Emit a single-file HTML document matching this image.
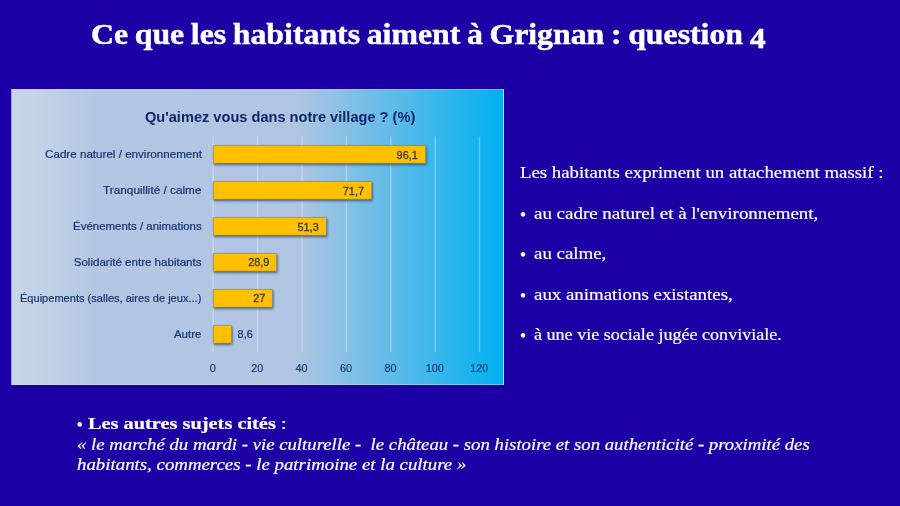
<!DOCTYPE html>
<html lang="fr">
<head>
<meta charset="utf-8">
<title>Ce que les habitants aiment à Grignan : question 4</title>
<style>
html,body{margin:0;padding:0;}
body{width:900px;height:506px;overflow:hidden;background:#1c00a5;position:relative;font-family:"Liberation Serif",serif;color:#fff;}
.abs{position:absolute;white-space:nowrap;line-height:1;transform-origin:0 0;margin:0;}
h1{font-weight:bold;font-size:29px;left:91px;top:19.5px;word-spacing:-1.2px;transform:scaleX(1.0965);-webkit-text-stroke:.45px #fff;}
.os{position:relative;top:4px;}
#chart{position:absolute;left:11px;top:89px;width:493px;height:296px;box-sizing:border-box;border:1px solid rgba(217,217,217,.5);
background:linear-gradient(90deg,#c7d7ea 0%,#c2d3e8 6%,#b3c7e2 17%,#b0c5e2 58%,#00b0f0 100%);
font-family:"Liberation Sans",sans-serif;color:#1f3864;}
#chart .t{position:absolute;white-space:nowrap;line-height:1;}
.ctitle{font-weight:bold;font-size:14.6px;left:133px;top:20px;color:#12266a;}
.cat{font-size:11.55px;right:301.5px;color:#17306e;-webkit-text-stroke:.2px #17306e;transform-origin:100% 50%;}
.val{font-size:10.9px;color:#383838;-webkit-text-stroke:.3px #383838;}
.val.out{color:#17306e;-webkit-text-stroke:.2px #17306e;}
.ax{font-size:10.8px;width:40px;text-align:center;top:273px;color:#17306e;-webkit-text-stroke:.15px #17306e;}
.p{font-size:17.6px;transform:scaleX(1.073);-webkit-text-stroke:.2px #fff;}
.bu{font-size:18.5px;left:519.8px;}
.b{font-size:17.4px;-webkit-text-stroke:.2px #fff;}
</style>
</head>
<body>
<h1 class="abs">Ce que les habitants aiment à Grignan : question <span class="os">4</span></h1>

<div id="chart">
  <svg width="493" height="296" viewBox="0 0 493 296" style="position:absolute;left:-1px;top:-1px">
    <defs><filter id="sh" x="-5%" y="-30%" width="110%" height="170%"><feDropShadow dx=".7" dy="1.4" stdDeviation="1" flood-color="#24395c" flood-opacity=".8"/></filter></defs>
    <g stroke="#fff" stroke-opacity=".36" stroke-width="1.3"><line x1="202.1" y1="47.5" x2="202.1" y2="263.2"/><line x1="246.5" y1="47.5" x2="246.5" y2="263.2"/><line x1="290.9" y1="47.5" x2="290.9" y2="263.2"/><line x1="335.3" y1="47.5" x2="335.3" y2="263.2"/><line x1="379.7" y1="47.5" x2="379.7" y2="263.2"/><line x1="424.1" y1="47.5" x2="424.1" y2="263.2"/><line x1="468.5" y1="47.5" x2="468.5" y2="263.2"/></g>
    <g fill="#ffc000" stroke="#5f7ca6" stroke-opacity=".7" stroke-width=".7" filter="url(#sh)"><rect x="202.3" y="56.7" width="212.4" height="17.5"/><rect x="202.3" y="92.7" width="158.3" height="17.5"/><rect x="202.3" y="128.7" width="113.0" height="17.5"/><rect x="202.3" y="164.6" width="63.3" height="17.5"/><rect x="202.3" y="200.6" width="59.0" height="17.5"/><rect x="202.3" y="236.6" width="18.2" height="17.5"/></g>
  </svg>
  <div class="t ctitle">Qu'aimez vous dans notre village ? (%)</div>
  <div class="t cat" style="top:59px;transform:scaleX(1.006)">Cadre naturel / environnement</div>
  <div class="t cat" style="top:95px;transform:scaleX(1.02)">Tranquillité / calme</div>
  <div class="t cat" style="top:131px;transform:scaleX(0.992)">Événements / animations</div>
  <div class="t cat" style="top:167px;transform:scaleX(1.0)">Solidarité entre habitants</div>
  <div class="t cat" style="top:203px;transform:scaleX(0.958)">Équipements (salles, aires de jeux...)</div>
  <div class="t cat" style="top:239px;transform:scaleX(1.0)">Autre</div>
  <div class="t val" style="top:59.5px;right:85.2px">96,1</div>
  <div class="t val" style="top:95.5px;right:139.0px">71,7</div>
  <div class="t val" style="top:131.5px;right:184.3px">51,3</div>
  <div class="t val" style="top:167.4px;right:233.6px">28,9</div>
  <div class="t val" style="top:203.4px;right:237.7px">27</div>
  <div class="t val out" style="top:239.4px;left:225.6px">8,6</div>
  <div class="t ax" style="left:180.8px">0</div>
  <div class="t ax" style="left:225.2px">20</div>
  <div class="t ax" style="left:269.6px">40</div>
  <div class="t ax" style="left:314.0px">60</div>
  <div class="t ax" style="left:358.4px">80</div>
  <div class="t ax" style="left:402.8px">100</div>
  <div class="t ax" style="left:447.2px">120</div>
</div>

<div class="abs p" style="left:520px;top:164px;transform:scaleX(1.069)">Les habitants expriment un attachement massif :</div>
<div class="abs bu" style="top:205.6px">•</div>
<div class="abs p" style="left:534px;top:205px;transform:scaleX(1.077)">au cadre naturel et à l'environnement,</div>
<div class="abs bu" style="top:246.1px">•</div>
<div class="abs p" style="left:534px;top:245px">au calme,</div>
<div class="abs bu" style="top:286.8px">•</div>
<div class="abs p" style="left:534px;top:286px">aux animations existantes,</div>
<div class="abs bu" style="top:327.2px">•</div>
<div class="abs p" style="left:534px;top:326px;transform:scaleX(1.027)">à une vie sociale jugée conviviale.</div>

<div class="abs bu" style="left:76.6px;top:416.2px;">•</div>
<div class="abs b" style="left:87.5px;top:414.5px;transform:scaleX(1.17)"><b>Les autres sujets cités</b> :</div>
<div class="abs b" style="left:77px;top:435.5px;transform:scaleX(1.078)"><i>« le marché du mardi - vie culturelle -&nbsp; le château - son histoire et son authenticité - proximité des</i></div>
<div class="abs b" style="left:77px;top:456px;transform:scaleX(1.083)"><i>habitants, commerces - le patrimoine et la culture »</i></div>
</body>
</html>
